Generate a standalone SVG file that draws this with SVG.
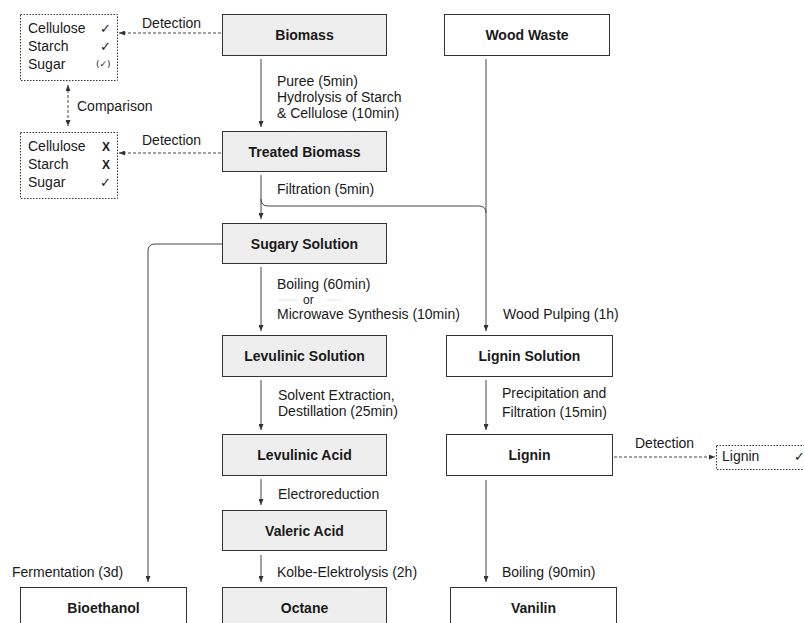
<svg xmlns="http://www.w3.org/2000/svg" width="804" height="623" viewBox="0 0 804 623">
<style>
  text { font-family: "Liberation Sans", Arial, "DejaVu Sans", sans-serif; fill: #1a1a1a; }
  .lbl { font-size: 14px; font-weight: bold; text-anchor: middle; }
  .txt { font-size: 14px; }
  .sm { font-size: 12px; }
  .box { stroke: #333; stroke-width: 1; }
  .grey { fill: #eeeeee; }
  .white { fill: #ffffff; }
  .dotbox { fill: #ffffff; stroke: #333; stroke-width: 1; stroke-dasharray: 1.5 1.5; }
  .conn { fill: none; stroke: #444; stroke-width: 1; }
  .dash { stroke-dasharray: 3 2; }
  .chk { font-family: "DejaVu Sans", sans-serif; font-size: 13px; }
  .chks { font-family: "DejaVu Sans", sans-serif; font-size: 9px; }
  .x { font-size: 12px; font-weight: bold; }
  .faint { stroke: #e4e4e4; stroke-width: 1; }
</style>
<defs>
  <marker id="arr" markerUnits="userSpaceOnUse" markerWidth="6" markerHeight="5" refX="6" refY="2.5" orient="auto">
    <path d="M0,0 L6,2.5 L0,5 z" fill="#333"/>
  </marker>
  <marker id="arrs" markerUnits="userSpaceOnUse" markerWidth="6" markerHeight="5" refX="0" refY="2.5" orient="auto">
    <path d="M6,0 L0,2.5 L6,5 z" fill="#333"/>
  </marker>
</defs>
<rect x="0" y="0" width="804" height="623" fill="#ffffff"/>

<g id="connectors">
  <path class="conn" d="M261,59 L261,127" marker-end="url(#arr)"/>
  <path class="conn" d="M261,175 L261,219" marker-end="url(#arr)"/>
  <path class="conn" d="M261,199 Q261,206 268,206 L479,206 Q486,206 486,213"/>
  <path class="conn" d="M486,59 L486,331" marker-end="url(#arr)"/>
  <path class="conn" d="M261,267 L261,331" marker-end="url(#arr)"/>
  <path class="conn" d="M261,380 L261,430" marker-end="url(#arr)"/>
  <path class="conn" d="M261,479 L261,505" marker-end="url(#arr)"/>
  <path class="conn" d="M261,555 L261,582" marker-end="url(#arr)"/>
  <path class="conn" d="M222,244 L155,244 Q148,244 148,251 L148,582" marker-end="url(#arr)"/>
  <path class="conn" d="M486,380 L486,430" marker-end="url(#arr)"/>
  <path class="conn" d="M486,480 L486,582" marker-end="url(#arr)"/>
  <path class="conn dash" d="M221,33 L119,33" marker-end="url(#arr)"/>
  <path class="conn dash" d="M221,153 L119,153" marker-end="url(#arr)"/>
  <path class="conn dash" d="M614,457 L715,457" marker-end="url(#arr)"/>
  <path class="conn dash" d="M68,85 L68,126" marker-start="url(#arrs)" marker-end="url(#arr)"/>
  <line class="faint" x1="278" y1="300" x2="297" y2="300"/>
  <line class="faint" x1="327" y1="300" x2="342" y2="300"/>
</g>

<g id="edge-labels">
  <text class="txt" x="142" y="28">Detection</text>
  <text class="txt" x="142" y="145">Detection</text>
  <text class="txt" x="635" y="448">Detection</text>
  <text class="txt" x="77" y="111">Comparison</text>
  <text class="txt" x="277" y="86">Puree (5min)</text>
  <text class="txt" x="277" y="102">Hydrolysis of Starch</text>
  <text class="txt" x="277" y="118">&amp; Cellulose (10min)</text>
  <text class="txt" x="277" y="194">Filtration (5min)</text>
  <text class="txt" x="277" y="289">Boiling (60min)</text>
  <text class="txt sm" x="303" y="303.5">or</text>
  <text class="txt" x="277" y="319">Microwave Synthesis (10min)</text>
  <text class="txt" x="503" y="319">Wood Pulping (1h)</text>
  <text class="txt" x="278" y="400">Solvent Extraction,</text>
  <text class="txt" x="278" y="416">Destillation (25min)</text>
  <text class="txt" x="502" y="398">Precipitation and</text>
  <text class="txt" x="502" y="417">Filtration (15min)</text>
  <text class="txt" x="278" y="499">Electroreduction</text>
  <text class="txt" x="12" y="577">Fermentation (3d)</text>
  <text class="txt" x="277" y="577">Kolbe-Elektrolysis (2h)</text>
  <text class="txt" x="502" y="577">Boiling (90min)</text>
</g>

<g id="detect1">
  <rect class="dotbox" x="20.5" y="14.5" width="97" height="66"/>
  <text class="txt" x="28" y="32.5">Cellulose</text>
  <text class="txt" x="28" y="50.5">Starch</text>
  <text class="txt" x="28" y="68.5">Sugar</text>
  <text class="chk" x="100" y="32.5">✓</text>
  <text class="chk" x="100" y="50.5">✓</text>
  <text class="chks" x="96" y="67">(✓)</text>
</g>
<g id="detect2">
  <rect class="dotbox" x="20.5" y="132.5" width="97" height="66"/>
  <text class="txt" x="28" y="150.5">Cellulose</text>
  <text class="txt" x="28" y="168.5">Starch</text>
  <text class="txt" x="28" y="186.5">Sugar</text>
  <text class="x" x="102" y="150.5">X</text>
  <text class="x" x="102" y="168.5">X</text>
  <text class="chk" x="100" y="186.5">✓</text>
</g>
<g id="detect3">
  <rect class="dotbox" x="716.5" y="445.5" width="100" height="24"/>
  <text class="txt" x="722" y="461">Lignin</text>
  <text class="chk" x="794" y="461">✓</text>
</g>

<g id="biomass">
  <rect class="box grey" x="222.5" y="14.5" width="164" height="41"/>
  <text class="lbl" x="304.5" y="40">Biomass</text>
</g>
<g id="wood-waste">
  <rect class="box white" x="444.5" y="14.5" width="165" height="41"/>
  <text class="lbl" x="527" y="40">Wood Waste</text>
</g>
<g id="treated-biomass">
  <rect class="box grey" x="222.5" y="131.5" width="164" height="40"/>
  <text class="lbl" x="304.5" y="157">Treated Biomass</text>
</g>
<g id="sugary-solution">
  <rect class="box grey" x="222.5" y="223.5" width="164" height="40"/>
  <text class="lbl" x="304.5" y="249">Sugary Solution</text>
</g>
<g id="levulinic-solution">
  <rect class="box grey" x="222.5" y="335.5" width="164" height="41"/>
  <text class="lbl" x="304.5" y="361">Levulinic Solution</text>
</g>
<g id="lignin-solution">
  <rect class="box white" x="446.5" y="335.5" width="166" height="41"/>
  <text class="lbl" x="529.5" y="361">Lignin Solution</text>
</g>
<g id="levulinic-acid">
  <rect class="box grey" x="222.5" y="434.5" width="164" height="41"/>
  <text class="lbl" x="304.5" y="460">Levulinic Acid</text>
</g>
<g id="lignin">
  <rect class="box white" x="446.5" y="434.5" width="166" height="41"/>
  <text class="lbl" x="529.5" y="460">Lignin</text>
</g>
<g id="valeric-acid">
  <rect class="box grey" x="222.5" y="510.5" width="164" height="40"/>
  <text class="lbl" x="304.5" y="536">Valeric Acid</text>
</g>
<g id="bioethanol">
  <rect class="box white" x="20.5" y="587.5" width="166" height="50"/>
  <text class="lbl" x="103.5" y="613">Bioethanol</text>
</g>
<g id="octane">
  <rect class="box grey" x="222.5" y="587.5" width="164" height="50"/>
  <text class="lbl" x="304.5" y="613">Octane</text>
</g>
<g id="vanilin">
  <rect class="box white" x="450.5" y="587.5" width="166" height="50"/>
  <text class="lbl" x="533.5" y="613">Vanilin</text>
</g>
</svg>
